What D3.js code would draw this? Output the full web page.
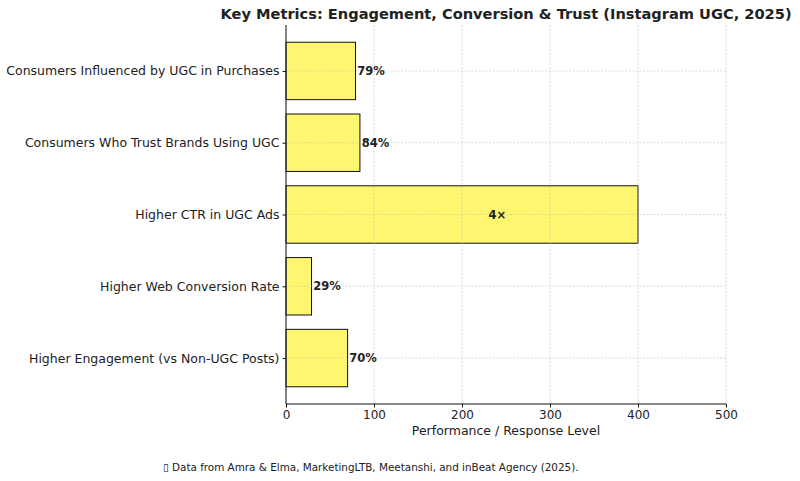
<!DOCTYPE html>
<html>
<head>
<meta charset="utf-8">
<script src="https://cdn.jsdelivr.net/npm/d3@7"></script>
<style>
  body { margin: 0; background: #fff; }
  text { font-family: "DejaVu Sans", sans-serif; fill: #222; }
</style>
</head>
<body>
<svg id="chart" width="800" height="481"></svg>
<script>
// data, top to bottom as shown
const categories = [
  'Consumers Influenced by UGC in Purchases',
  'Consumers Who Trust Brands Using UGC',
  'Higher CTR in UGC Ads',
  'Higher Web Conversion Rate',
  'Higher Engagement (vs Non-UGC Posts)'
]
const values = [79, 84, 400, 29, 70]
const valueLabels = ['79%', '84%', '4×', '29%', '70%']
const xTicks = [0, 100, 200, 300, 400, 500]

const svg = d3.select('#chart')
const m = { left: 286, right: 726, top: 25, bottom: 404 }

let x = d3.scaleLinear().domain([0, 500]).range([m.left, m.right])
// matplotlib-like limits: bars at 0..4, height 0.8, 5% margin
let y = d3.scaleLinear().domain([-0.64, 4.64]).range([m.top, m.bottom])
const barH = Math.abs(y(0.8) - y(0))

let g = svg.append('g')

// bars
g.selectAll('rect.bar')
  .data(values).enter()
  .append('rect')
  .attr('class', 'bar')
  .attr('x', x(0))
  .attr('y', (d, i) => y(i) - barH / 2)
  .attr('width', d => x(d) - x(0))
  .attr('height', barH)
  .attr('fill', '#fff670')
  .attr('stroke', '#111')
  .attr('stroke-width', 1)

// grid on top of bars
g.selectAll('line.vgrid')
  .data(xTicks).enter()
  .append('line')
  .attr('x1', d => x(d)).attr('x2', d => x(d))
  .attr('y1', m.top).attr('y2', m.bottom)
  .attr('stroke', '#bbb').attr('stroke-width', 0.6)
  .attr('stroke-dasharray', '2,1.5').attr('opacity', 0.8)
g.selectAll('line.hgrid')
  .data(categories).enter()
  .append('line')
  .attr('x1', m.left).attr('x2', m.right)
  .attr('y1', (d, i) => y(i)).attr('y2', (d, i) => y(i))
  .attr('stroke', '#bbb').attr('stroke-width', 0.6)
  .attr('stroke-dasharray', '2,1.5').attr('opacity', 0.8)

// axes
let xAxis = d3.axisBottom(x).tickValues(xTicks).tickSize(3.5).tickPadding(3)
let ax = svg.append('g').attr('transform', `translate(0,${m.bottom})`).call(xAxis)
ax.select('.domain').attr('stroke', '#111').attr('d', `M${m.left},0H${m.right}`)
ax.selectAll('text').style('font-size', '12px').attr('fill', '#222')
ax.selectAll('line').attr('stroke', '#111')

let yAxis = d3.axisLeft(y).tickValues(d3.range(categories.length))
  .tickFormat(i => categories[i]).tickSize(3.5).tickPadding(3)
let ay = svg.append('g').attr('transform', `translate(${m.left},0)`).call(yAxis)
ay.select('.domain').attr('stroke', '#111').attr('d', `M0,${m.top}V${m.bottom}`)
ay.selectAll('text').style('font-size', '12.5px').attr('fill', '#222')
ay.selectAll('line').attr('stroke', '#111')

// value labels
g.selectAll('text.val')
  .data(values).enter()
  .append('text')
  .attr('class', 'val')
  .attr('x', (d, i) => valueLabels[i].includes('×') ? x(d * 0.6) : x(d + 2))
  .attr('y', (d, i) => y(i))
  .attr('dy', '0.35em')
  .attr('text-anchor', (d, i) => valueLabels[i].includes('×') ? 'middle' : 'start')
  .style('font-size', '11.5px')
  .style('font-weight', 'bold')
  .attr('fill', '#333')
  .text((d, i) => valueLabels[i])

// titles
svg.append('text')
  .attr('x', (m.left + m.right) / 2).attr('y', 19)
  .attr('text-anchor', 'middle')
  .style('font-size', '14.6px').style('font-weight', 'bold')
  .text('Key Metrics: Engagement, Conversion & Trust (Instagram UGC, 2025)')

svg.append('text')
  .attr('x', (m.left + m.right) / 2).attr('y', 435)
  .attr('text-anchor', 'middle')
  .style('font-size', '12.5px')
  .text('Performance / Response Level')

svg.append('text')
  .attr('x', 163).attr('y', 471)
  .style('font-size', '10.4px')
  .attr('fill', '#333')
  .text('\u25AF Data from Amra & Elma, MarketingLTB, Meetanshi, and inBeat Agency (2025).')
</script>
</body>
</html>
